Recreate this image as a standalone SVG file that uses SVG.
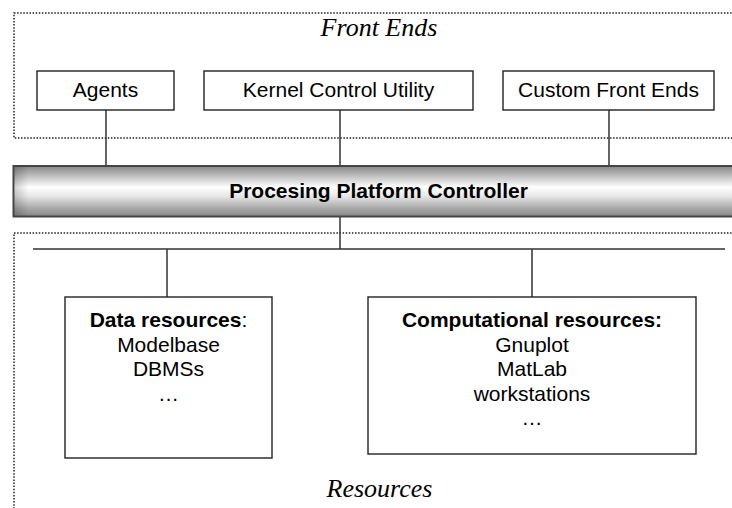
<svg xmlns="http://www.w3.org/2000/svg" width="732" height="508" viewBox="0 0 732 508">
<defs>
<linearGradient id="barGrad" x1="0" y1="0" x2="0" y2="1">
<stop offset="0" stop-color="#858585"/>
<stop offset="0.2" stop-color="#c0c0c0"/>
<stop offset="0.42" stop-color="#ffffff"/>
<stop offset="0.6" stop-color="#e6e6e6"/>
<stop offset="0.85" stop-color="#a5a5a5"/>
<stop offset="1" stop-color="#888"/>
</linearGradient>
<linearGradient id="barEnd" x1="0" y1="0" x2="1" y2="0">
<stop offset="0" stop-color="#000" stop-opacity="0.18"/>
<stop offset="1" stop-color="#000" stop-opacity="0"/>
</linearGradient>
</defs>
<style>
.zone{fill:none;stroke:#222;stroke-width:1.5;stroke-dasharray:1.5 1.6}
.box{fill:#fff;stroke:#222;stroke-width:1.4}
.lbl{font-family:"Liberation Sans",Arial,sans-serif;font-size:21px;fill:#000;text-anchor:middle}
.b{font-weight:bold}
.title{font-family:"Liberation Serif","Times New Roman",serif;font-style:italic;font-size:26px;fill:#000;text-anchor:middle}
.conn{stroke:#333;stroke-width:1.5;fill:none}
</style>
<rect width="732" height="508" fill="#fff"/>
<g id="front-ends-zone">
<rect class="zone" x="14" y="13" width="740" height="125"/>
<text class="title" x="379" y="36">Front Ends</text>
</g>
<g id="resources-zone">
<rect class="zone" x="14" y="233" width="740" height="300"/>
<text class="title" x="379.5" y="497">Resources</text>
</g>
<g id="connectors">
<line class="conn" x1="106" y1="110" x2="106" y2="166"/>
<line class="conn" x1="340" y1="110" x2="340" y2="166"/>
<line class="conn" x1="609" y1="110" x2="609" y2="166"/>
<line class="conn" x1="340" y1="217" x2="340" y2="249"/>
<line class="conn" x1="33" y1="249" x2="725" y2="249"/>
<line class="conn" x1="167" y1="249" x2="167" y2="297"/>
<line class="conn" x1="532" y1="249" x2="532" y2="297"/>
</g>
<g id="agents">
<rect class="box" x="37" y="71" width="137" height="39"/>
<text class="lbl" x="105.5" y="96.5">Agents</text>
</g>
<g id="kernel-control-utility">
<rect class="box" x="204" y="71" width="269" height="39"/>
<text class="lbl" x="338.5" y="96.5">Kernel Control Utility</text>
</g>
<g id="custom-front-ends">
<rect class="box" x="503" y="71" width="211" height="39"/>
<text class="lbl" x="608.5" y="96.5">Custom Front Ends</text>
</g>
<g id="controller">
<rect x="13.5" y="166" width="740" height="50.5" fill="url(#barGrad)" stroke="#444" stroke-width="2"/>
<rect x="14.5" y="167" width="14" height="48.5" fill="url(#barEnd)"/>
<text class="lbl b" x="378.5" y="197.5">Procesing Platform Controller</text>
</g>
<g id="data-resources">
<rect class="box" x="65" y="297" width="207" height="161"/>
<text class="lbl" x="168.5" y="327"><tspan class="b">Data resources</tspan>:</text>
<text class="lbl" x="168.5" y="351.5">Modelbase</text>
<text class="lbl" x="168.5" y="376">DBMSs</text>
<text class="lbl" x="168.5" y="400.5">…</text>
</g>
<g id="computational-resources">
<rect class="box" x="368" y="297" width="328" height="157"/>
<text class="lbl b" x="532" y="327">Computational resources:</text>
<text class="lbl" x="532" y="351.5">Gnuplot</text>
<text class="lbl" x="532" y="376">MatLab</text>
<text class="lbl" x="532" y="400.5">workstations</text>
<text class="lbl" x="532" y="425">…</text>
</g>
</svg>
